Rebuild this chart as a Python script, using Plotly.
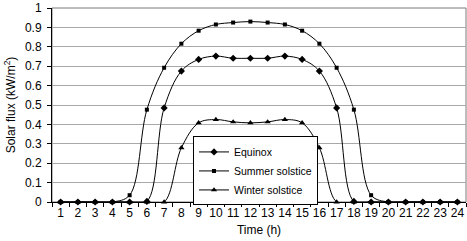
import plotly.graph_objects as go

hours = list(range(1, 25))
equinox = [0, 0, 0, 0, 0, 0.003, 0.485, 0.675, 0.735, 0.752, 0.741, 0.741,
           0.741, 0.752, 0.735, 0.675, 0.485, 0.003, 0, 0, 0, 0, 0, 0]
summer = [0, 0, 0, 0, 0.035, 0.476, 0.692, 0.816, 0.883, 0.915, 0.925, 0.93,
          0.925, 0.915, 0.883, 0.816, 0.692, 0.476, 0.035, 0, 0, 0, 0, 0]
winter = [0, 0, 0, 0, 0, 0, 0, 0.279, 0.408, 0.425, 0.413, 0.408,
          0.413, 0.425, 0.408, 0.279, 0, 0, 0, 0, 0, 0, 0, 0]
tick_labels = [str(h) for h in hours]
y_ticks = [0, 0.1, 0.2, 0.3, 0.4, 0.5, 0.6, 0.7, 0.8, 0.9, 1]
y_tick_labels = ["0", "0.1", "0.2", "0.3", "0.4", "0.5", "0.6", "0.7", "0.8", "0.9", "1"]

FONT = "Liberation Sans, Arial, sans-serif"

fig = go.Figure()
series = [
    ("Equinox", equinox, "diamond", 5.5, 1),
    ("Winter solstice", winter, "triangle-up", 5.5, 3),
    ("Summer solstice", summer, "square", 4, 2),
]
for name, ys, sym, sz, rank in series:
    fig.add_trace(go.Scatter(
        x=hours, y=ys, name=name, mode="lines+markers",
        line=dict(color="black", width=1, shape="spline", smoothing=1),
        marker=dict(symbol=sym, size=sz, color="black"),
        cliponaxis=False, legendrank=rank,
    ))

fig.update_layout(
    width=467, height=241,
    margin=dict(l=52, r=1, t=6, b=39),
    paper_bgcolor="white", plot_bgcolor="white",
    font=dict(family=FONT, size=12, color="black"),
    showlegend=True,
    legend=dict(
        x=0.3406, y=0.338, xanchor="left", yanchor="top",
        bordercolor="black", borderwidth=1, bgcolor="white",
        font=dict(size=10.5), tracegroupgap=0, itemwidth=30,
    ),
    xaxis=dict(
        range=[0.5, 24.5], tickmode="array", tickvals=hours, ticktext=tick_labels,
        showgrid=False, showline=True, linecolor="black", linewidth=1,
        ticks="", zeroline=False,
        minor=dict(tickmode="array", tickvals=[h + 0.5 for h in range(0, 25)],
                   ticks="outside", ticklen=4, tickcolor="black", showgrid=False),
        title=dict(text="Time (h)", font=dict(size=12), standoff=6),
        tickfont=dict(size=12),
    ),
    yaxis=dict(
        range=[0, 1], tickmode="array", tickvals=y_ticks, ticktext=y_tick_labels,
        showgrid=True, gridcolor="#a8a8a8", gridwidth=1,
        showline=True, linecolor="black", linewidth=1,
        ticks="outside", ticklen=4, tickcolor="black",
        ticklabeloverflow="allow", ticklabelstandoff=3,
        zeroline=False,
        title=dict(text="Solar flux (kW/m<sup>2</sup>)", font=dict(size=12), standoff=6),
        tickfont=dict(size=12),
    ),
)

# right/top border
fig.add_shape(type="rect", xref="paper", yref="paper", x0=0, y0=0, x1=1, y1=1,
              line=dict(color="#7a7a7a", width=1), layer="below")

fig.write_html("out.html")
